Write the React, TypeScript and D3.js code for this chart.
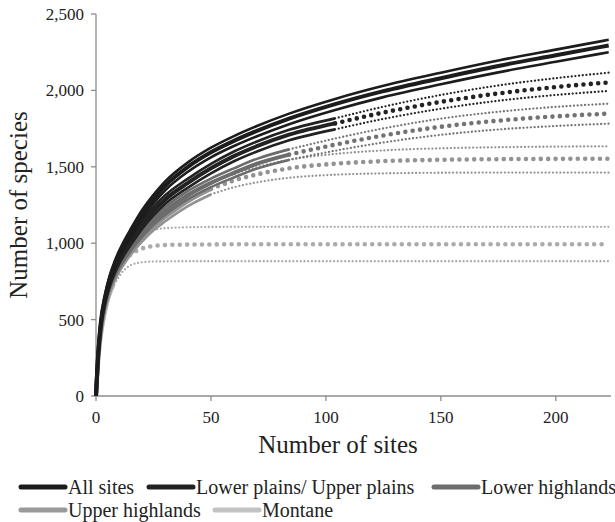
import React from 'react';
import * as d3 from 'd3';

const sites = [0, 1, 2, 4, 6, 8, 10, 12, 15, 20, 25, 30, 40, 50, 60, 70, 84, 104, 125, 150, 175, 200, 223];

const allMean = [0, 290, 470, 650, 770, 855, 925, 985, 1065, 1190, 1290, 1375, 1500, 1595, 1670, 1735, 1815, 1910, 1995, 2080, 2160, 2230, 2294];
const allHi = [0, 300, 484, 668, 790, 877, 948, 1009, 1090, 1216, 1317, 1403, 1529, 1625, 1701, 1767, 1848, 1944, 2030, 2116, 2196, 2267, 2331];
const allLo = [0, 280, 456, 632, 750, 833, 902, 961, 1040, 1163, 1261, 1345, 1468, 1562, 1636, 1700, 1779, 1872, 1956, 2040, 2118, 2187, 2250];

const lpMean = [0, 280, 450, 630, 740, 820, 885, 940, 1010, 1120, 1210, 1285, 1395, 1490, 1570, 1635, 1710, 1784, 1855, 1925, 1980, 2022, 2052];
const lpHi = [0, 290, 464, 648, 760, 841, 907, 963, 1034, 1145, 1236, 1312, 1423, 1519, 1600, 1666, 1742, 1817, 1893, 1970, 2032, 2080, 2116];
const lpLo = [0, 270, 436, 612, 720, 799, 863, 917, 986, 1094, 1182, 1256, 1364, 1457, 1536, 1600, 1673, 1745, 1813, 1880, 1932, 1970, 1996];

const lhMean = [0, 265, 430, 610, 720, 795, 855, 905, 970, 1065, 1145, 1210, 1315, 1395, 1460, 1520, 1580, 1645, 1705, 1762, 1802, 1830, 1848];
const lhHi = [0, 275, 443, 626, 738, 814, 875, 926, 992, 1088, 1169, 1235, 1342, 1423, 1490, 1552, 1614, 1685, 1751, 1815, 1860, 1892, 1913];
const lhLo = [0, 255, 417, 594, 702, 776, 835, 884, 948, 1042, 1121, 1185, 1288, 1367, 1430, 1488, 1545, 1605, 1659, 1709, 1744, 1767, 1782];

const uhMean = [0, 255, 415, 590, 695, 770, 830, 880, 945, 1035, 1110, 1170, 1275, 1355, 1410, 1450, 1490, 1520, 1537, 1546, 1550, 1552, 1553];
const uhHi = [0, 265, 428, 606, 713, 789, 850, 901, 967, 1059, 1136, 1198, 1307, 1391, 1452, 1498, 1546, 1584, 1607, 1621, 1628, 1632, 1634];
const uhLo = [0, 245, 402, 574, 677, 751, 810, 859, 923, 1011, 1084, 1142, 1243, 1319, 1366, 1398, 1428, 1448, 1457, 1461, 1462, 1462, 1462];

const mtMean = [0, 230, 380, 560, 680, 760, 825, 875, 925, 965, 982, 988, 991, 992, 993, 993, 993, 993, 993, 993, 993, 993, 993];
const mtHi = [0, 240, 395, 580, 705, 790, 870, 935, 1000, 1055, 1085, 1098, 1104, 1106, 1107, 1107, 1107, 1107, 1107, 1107, 1107, 1107, 1107];
const mtLo = [0, 220, 365, 540, 655, 730, 780, 820, 855, 875, 880, 881, 882, 882, 882, 882, 882, 882, 882, 882, 882, 882, 882];

// number of sites actually sampled (solid up to here, dotted after)
const sampled = [223, 104, 84, 50, 8];
const names = ['All sites', 'Lower plains/ Upper plains', 'Lower highlands', 'Upper highlands', 'Montane'];

const xTicks = [0, 50, 100, 150, 200];
const yTicks = [0, 500, 1000, 1500, 2000, 2500];

const groups = [
  { name: names[0], n: sampled[0], mean: allMean, hi: allHi, lo: allLo, line: '#1c1c1c', dot: '#1c1c1c', key: '#1c1c1c' },
  { name: names[1], n: sampled[1], mean: lpMean, hi: lpHi, lo: lpLo, line: '#222222', dot: '#222222', key: '#222222' },
  { name: names[2], n: sampled[2], mean: lhMean, hi: lhHi, lo: lhLo, line: '#6c6c6c', dot: '#737373', key: '#6e6e6e' },
  { name: names[3], n: sampled[3], mean: uhMean, hi: uhHi, lo: uhLo, line: '#929292', dot: '#939393', key: '#9a9a9a' },
  { name: names[4], n: sampled[4], mean: mtMean, hi: mtHi, lo: mtLo, line: '#b4b4b4', dot: '#ababab', key: '#c2c2c2' },
];

const font = '"Liberation Serif", "Times New Roman", serif';
const axisColor = '#8c8c8c';

export default function App() {
  const x = d3.scaleLinear().domain([0, 224]).range([96, 611]);
  const y = d3.scaleLinear().domain([0, 2500]).range([396, 14]);

  const line = d3.line<[number, number]>()
    .x(d => x(d[0]))
    .y(d => y(d[1]))
    .curve(d3.curveMonotoneX);

  const part = (vals: number[], n: number, solid: boolean) =>
    sites
      .map((s, i) => [s, vals[i]] as [number, number])
      .filter(d => (solid ? d[0] <= n : d[0] >= n));

  // draw the light groups first so the black ones sit on top
  const drawOrder = groups.slice().reverse();

  const legendRows = [
    [{ g: groups[0], x: 21 }, { g: groups[1], x: 149 }, { g: groups[2], x: 434 }],
    [{ g: groups[3], x: 21 }, { g: groups[4], x: 215 }],
  ];

  return (
    <div style={{ position: 'absolute', left: 0, top: 0 }}>
      <svg width={615} height={522} style={{ display: 'block', background: '#fff' }}>
        {/* axes */}
        <line x1={x(0)} x2={x(0)} y1={y(2500)} y2={y(0)} stroke={axisColor} strokeWidth={1.3} />
        <line x1={x(0)} x2={x(224)} y1={y(0)} y2={y(0)} stroke={axisColor} strokeWidth={1.3} />
        {yTicks.map(t => (
          <g key={t}>
            <line x1={x(0) - 5} x2={x(0)} y1={y(t)} y2={y(t)} stroke={axisColor} strokeWidth={1.3} />
            <text x={x(0) - 12} y={y(t)} dy="0.35em" textAnchor="end" fontFamily={font} fontSize={17} fill="#222">
              {d3.format(',')(t)}
            </text>
          </g>
        ))}
        {xTicks.map(t => (
          <g key={t}>
            <line x1={x(t)} x2={x(t)} y1={y(0)} y2={y(0) + 5} stroke={axisColor} strokeWidth={1.3} />
            <text x={x(t)} y={y(0) + 27} textAnchor="middle" fontFamily={font} fontSize={17} fill="#222">
              {t}
            </text>
          </g>
        ))}
        <text x={338} y={453} textAnchor="middle" fontFamily={font} fontSize={25} fill="#222">
          Number of sites
        </text>
        <text transform="translate(27,205) rotate(-90)" textAnchor="middle" fontFamily={font} fontSize={25} fill="#222">
          Number of species
        </text>

        {/* curves */}
        {drawOrder.map(g => (
          <g key={g.name}>
            {g.n < 223 && (
              <g fill="none" strokeLinecap="round">
                <path d={line(part(g.hi, g.n, false)) || ''} stroke={g.dot} strokeWidth={2.3} strokeDasharray="0 3.7" />
                <path d={line(part(g.lo, g.n, false)) || ''} stroke={g.dot} strokeWidth={2.3} strokeDasharray="0 3.7" />
                <path d={line(part(g.mean, g.n, false)) || ''} stroke={g.dot} strokeWidth={4.6} strokeDasharray="0 7.4" />
              </g>
            )}
            <g fill="none">
              <path d={line(part(g.hi, g.n, true)) || ''} stroke={g.line} strokeWidth={2.6} />
              <path d={line(part(g.lo, g.n, true)) || ''} stroke={g.line} strokeWidth={2.6} />
              <path d={line(part(g.mean, g.n, true)) || ''} stroke={g.line} strokeWidth={4} />
            </g>
          </g>
        ))}

        {/* legend */}
        {legendRows.map((row, ri) =>
          row.map(({ g, x: lx }) => (
            <g key={g.name} transform={`translate(${lx},${487 + ri * 23})`}>
              <line x1={0} x2={44} y1={0} y2={0} stroke={g.key} strokeWidth={5} strokeLinecap="round" />
              <text x={47} y={0} dy="0.33em" fontFamily={font} fontSize={20} fill="#222">
                {g.name}
              </text>
            </g>
          ))
        )}
      </svg>
    </div>
  );
}
